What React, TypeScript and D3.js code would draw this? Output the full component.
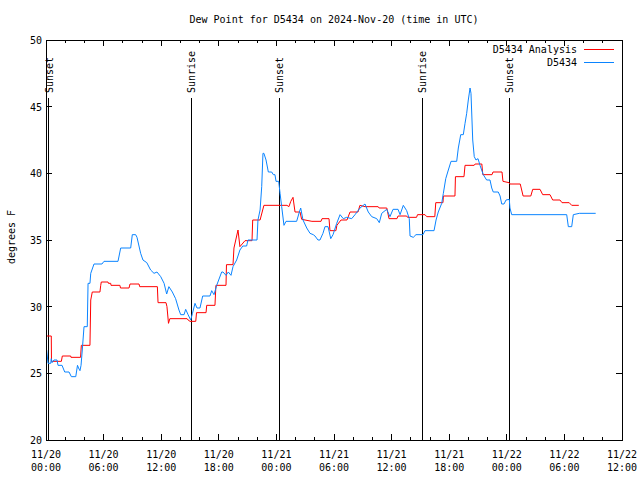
import React from "react";
import * as d3 from "d3";

// hours since 2024-11-20 00:00 UTC
const analysisHours = [0.07,0.55,0.57,1.6,1.7,2.57,2.6,3.6,3.68,4.58,4.66,4.82,5.62,5.7,5.76,6.46,6.5,6.74,6.77,7.7,7.76,8.65,8.75,9.69,9.76,11.6,11.67,12.5,12.6,12.76,12.9,14.7,14.8,15.0,15.6,15.68,16.67,16.74,17.6,17.7,18.75,18.8,19.48,19.58,20.0,20.2,20.73,21.46,21.53,22.3,22.7,25.1,25.3,25.5,25.73,25.94,26.46,26.63,27.7,28.65,28.75,29.48,29.58,30.2,30.3,30.73,31.35,31.67,32.5,32.7,33.23,34.6,34.7,35.5,35.73,36.56,36.67,37.57,37.66,38.6,38.7,39.48,39.66,40.5,40.6,41.35,41.4,42.6,42.65,43.54,43.65,44.6,44.7,45.4,45.5,46.46,46.56,47.5,47.6,48.23,48.33,49.4,49.7,50.5,50.7,51.46,51.74,52.5,52.78,53.54,53.75,54.5,54.76,55.5];
const analysisValues = [27.8,27.8,25.9,25.9,26.3,26.3,26.2,26.2,27.1,27.1,30.5,31.1,31.1,31.6,31.85,31.85,31.75,31.75,31.6,31.6,31.4,31.4,31.7,31.7,31.5,31.5,30.3,30.3,30.0,28.75,29.1,29.1,29.0,28.9,28.9,29.55,29.55,30.1,30.1,31.6,31.6,33.15,33.15,34.4,35.75,34.5,34.95,34.95,36.5,36.5,37.6,37.6,37.5,37.9,38.2,37.1,37.1,36.55,36.4,36.4,36.6,36.6,35.7,35.7,36.1,36.5,36.5,37.1,37.1,37.6,37.5,37.5,37.4,37.4,36.6,36.6,36.8,36.8,36.7,36.7,36.9,36.9,36.75,36.75,37.8,37.8,38.3,38.3,39.75,39.75,40.6,40.6,40.7,40.7,39.9,39.9,40.1,40.1,39.4,39.3,39.2,39.2,38.3,38.3,38.8,38.8,38.4,38.4,38.0,38.0,37.8,37.8,37.6,37.6];

const obsHours = [0.07,0.21,0.49,0.55,0.63,0.83,1.15,1.25,1.67,1.95,2.4,2.64,3.1,3.28,3.39,3.54,3.65,3.78,3.96,4.3,4.38,4.58,4.66,5.0,5.83,6.04,7.5,7.78,8.82,8.99,9.34,9.48,9.86,10.1,10.5,10.9,11.25,11.56,11.95,12.3,12.57,12.8,13.16,13.5,13.85,14.03,14.38,14.55,14.8,15.07,15.26,15.52,15.73,16.04,16.32,17.08,17.26,17.5,17.78,18.3,18.44,18.75,18.99,19.27,19.48,19.86,20.2,20.5,20.9,21.04,21.98,22.08,22.3,22.47,22.6,22.7,22.92,23.16,23.51,23.68,23.85,23.96,24.24,24.38,24.55,24.79,25.0,26.11,26.39,26.53,26.77,27.16,27.5,27.84,28.02,28.33,28.54,28.85,29.06,29.38,29.66,29.9,30.28,30.63,30.97,31.32,31.84,32.19,32.71,33.23,33.57,33.93,34.45,34.72,34.97,35.49,35.83,36.15,36.67,36.88,37.22,37.57,37.84,37.92,38.26,38.54,39.27,39.48,40.42,40.63,40.86,41.22,41.39,41.64,41.91,42.19,42.78,42.95,43.2,43.47,43.65,43.82,43.99,44.17,44.27,44.45,44.61,44.79,45.0,45.21,45.55,45.9,46.25,46.43,46.59,47.11,47.3,47.47,47.71,47.92,48.26,48.33,48.51,54.24,54.41,54.76,54.93,55.55,57.26];
const obsValues = [26.75,25.75,25.75,26.1,25.8,26.0,26.0,25.6,25.6,25.1,25.1,24.75,24.75,25.6,25.4,25.2,25.6,26.75,28.5,28.5,31.75,31.75,32.5,33.2,33.2,33.4,33.4,34.4,34.4,35.4,35.4,35.2,34.0,33.5,33.3,32.75,32.5,32.6,32.25,31.75,30.95,31.5,31.1,30.6,29.75,29.4,29.4,29.8,29.4,29.0,29.5,30.25,29.9,29.9,30.8,30.8,31.2,30.9,31.6,32.6,32.6,32.35,32.6,32.35,33.0,33.5,34.25,34.55,34.55,35.0,35.0,36.5,37.25,39.0,41.5,41.5,41.0,40.1,40.1,39.9,39.9,39.4,39.4,38.5,37.5,36.1,36.4,36.4,37.1,37.4,36.5,35.9,35.5,35.4,35.3,35.0,35.0,35.5,36.0,36.0,35.1,35.4,36.25,36.9,36.6,36.7,36.6,36.9,37.4,37.7,37.1,36.75,36.6,36.3,37.0,37.3,36.75,37.3,37.3,36.9,37.6,37.2,36.6,35.3,35.2,35.4,35.4,35.7,35.7,36.5,37.1,37.75,38.5,39.6,40.25,40.9,40.9,41.9,42.9,42.9,43.75,44.5,45.5,46.4,46.0,42.5,41.25,41.0,41.1,40.6,39.9,39.5,39.5,38.9,38.6,38.6,38.3,37.7,37.7,38.0,38.05,37.4,36.9,36.9,36.0,36.0,36.9,37.0,37.0];

const sunEventHours = [0.31, 15.14, 24.3, 39.2, 48.26];
const sunEventLabels = ["Sunset", "Sunrise", "Sunset", "Sunrise", "Sunset"];

const xTickHours = [0, 6, 12, 18, 24, 30, 36, 42, 48, 54, 60];
const xTickDates = ["11/20", "11/20", "11/20", "11/20", "11/21", "11/21", "11/21", "11/21", "11/22", "11/22", "11/22"];
const xTickTimes = ["00:00", "06:00", "12:00", "18:00", "00:00", "06:00", "12:00", "18:00", "00:00", "06:00", "12:00"];
const yTicks = [20, 25, 30, 35, 40, 45, 50];

const seriesNames = ["D5434 Analysis", "D5434"];
const seriesColors = ["#ff0000", "#0a84ff"];

const W = 640, H = 480;
const M = { left: 46, right: 18, top: 40, bottom: 40 };
const FONT = "'DejaVu Sans Mono', monospace";

export default function App() {
  const x = d3.scaleLinear().domain([0, 60]).range([M.left, W - M.right]);
  const y = d3.scaleLinear().domain([20, 50]).range([H - M.bottom, M.top]);
  const line = d3.line<[number, number]>().x(d => x(d[0])).y(d => y(d[1]));
  const red = analysisHours.map((h, i) => [h, analysisValues[i]] as [number, number]);
  const blue = obsHours.map((h, i) => [h, obsValues[i]] as [number, number]);
  const minor = d3.range(0, 61, 2).filter(h => h % 6 !== 0);
  const x0 = M.left, x1 = W - M.right, y0 = M.top, y1 = H - M.bottom;

  return (
    <div style={{ position: "absolute", left: 0, top: 0 }}>
      <svg width={W} height={H} style={{ display: "block", background: "#fff" }} fontFamily={FONT} fontSize={10}>
        <rect width={W} height={H} fill="#fff" />
        <text x={(x0 + x1) / 2} y={23} textAnchor="middle">Dew Point for D5434 on 2024-Nov-20 (time in UTC)</text>
        <g stroke="#000" strokeWidth={1} shapeRendering="crispEdges">
          {xTickHours.map(h => (
            <g key={"xt" + h}>
              <line x1={x(h)} x2={x(h)} y1={y1} y2={y1 - 6} />
              <line x1={x(h)} x2={x(h)} y1={y0} y2={y0 + 6} />
            </g>
          ))}
          {minor.map(h => (
            <g key={"xm" + h}>
              <line x1={x(h)} x2={x(h)} y1={y1} y2={y1 - 3} />
              <line x1={x(h)} x2={x(h)} y1={y0} y2={y0 + 3} />
            </g>
          ))}
          {yTicks.map(v => (
            <g key={"yt" + v}>
              <line x1={x0} x2={x0 + 6} y1={y(v)} y2={y(v)} />
              <line x1={x1} x2={x1 - 6} y1={y(v)} y2={y(v)} />
            </g>
          ))}
          {sunEventHours.map((h, i) => (
            <line key={"se" + i} x1={x(h)} x2={x(h)} y1={98} y2={y1} />
          ))}
        </g>
        {sunEventHours.map((h, i) => (
          <text key={"sl" + i} transform={`translate(${x(h) + 4},${93}) rotate(-90)`} textAnchor="start">{sunEventLabels[i]}</text>
        ))}
        {yTicks.map(v => (
          <text key={"yl" + v} x={x0 - 4} y={y(v) + 4} textAnchor="end">{v}</text>
        ))}
        {xTickHours.map((h, i) => (
          <g key={"xl" + h}>
            <text x={x(h)} y={458} textAnchor="middle">{xTickDates[i]}</text>
            <text x={x(h)} y={471} textAnchor="middle">{xTickTimes[i]}</text>
          </g>
        ))}
        <text transform={`translate(15,237) rotate(-90)`} textAnchor="middle">degrees F</text>
        <path d={line(red) || ""} fill="none" stroke={seriesColors[0]} strokeWidth={1} />
        <path d={line(blue) || ""} fill="none" stroke={seriesColors[1]} strokeWidth={1} />
        <rect x={x0} y={y0} width={x1 - x0} height={y1 - y0} fill="none" stroke="#000" shapeRendering="crispEdges" />
        {seriesNames.map((n, i) => (
          <g key={"lg" + i}>
            <text x={577} y={53 + i * 13} textAnchor="end">{n}</text>
            <line x1={584} x2={614} y1={49 + i * 13} y2={49 + i * 13} stroke={seriesColors[i]} shapeRendering="crispEdges" />
          </g>
        ))}
      </svg>
    </div>
  );
}
